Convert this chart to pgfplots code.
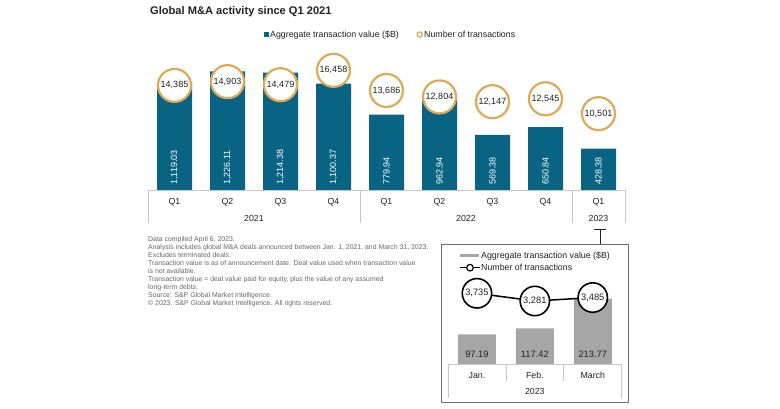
\documentclass[border=0pt]{standalone}
\usepackage{fontspec}
\setmainfont{Liberation Sans}
\usepackage{pgfplots}
\pgfplotsset{compat=1.18}
\usepackage{pgfplotstable}
\definecolor{barteal}{RGB}{8,100,130}
\definecolor{orng}{RGB}{227,168,87}
\definecolor{insetgrey}{RGB}{166,166,166}
\definecolor{linegrey}{RGB}{200,200,200}
\definecolor{notegrey}{RGB}{105,105,105}
\definecolor{framegrey}{RGB}{110,110,110}
\definecolor{txt}{RGB}{34,34,34}

\pgfplotstableread{
x val cnt
0 1119.03 14385
1 1226.11 14903
2 1214.38 14479
3 1100.37 16458
4 779.94 13686
5 962.94 12804
6 569.38 12147
7 650.84 12545
8 428.38 10501
}\maindata

\pgfplotstableread{
x val cnt
0 97.19 3735
1 117.42 3281
2 213.77 3485
}\insetdata

\newcommand{\fs}{\fontsize{8.8}{10}\selectfont}
\pgfplotsset{/pgf/number format/assume math mode=true}

\begin{document}
\begin{tikzpicture}[x=1pt,y=1pt]
\path[use as bounding box, fill=white] (0,0) rectangle (780,408);

% title
\node[anchor=base west, inner sep=0pt, font=\fontsize{11.1}{12}\selectfont\bfseries, text=txt] at (150,393.3) {Global M\&A activity since Q1 2021};

% main legend
\fill[barteal] (264.3,371.3) rectangle (268.5,375.5);
\node[anchor=base west, inner sep=0pt, font=\fs, text=txt] at (270,370.2) {Aggregate transaction value (\$B)};
\draw[orng, line width=1.3pt, fill=white] (419.7,373.5) circle (2.6);
\node[anchor=base west, inner sep=0pt, font=\fs, text=txt] at (424,370.2) {Number of transactions};

% main bars
\begin{axis}[at={(148pt,218pt)}, anchor=south west, scale only axis, width=477pt, height=130pt,
  xmin=-0.5, xmax=8.5, ymin=0, ymax=1344, clip=false,
  axis line style={draw=none}, ytick=\empty, xtick={0,...,8},
  xticklabels={Q1,Q2,Q3,Q4,Q1,Q2,Q3,Q4,Q1}, major tick length=0pt,
  xticklabel style={font=\fs, text=txt, anchor=base, yshift=-15pt}]
\addplot[ybar, bar width=35pt, fill=barteal, draw=none] table[x=x,y=val]{\maindata};
\addplot[draw=none, mark=none, point meta={\thisrow{val}},
  nodes near coords={\pgfmathprintnumber[fixed,fixed zerofill,precision=2,1000 sep={,}]{\pgfplotspointmeta}},
  every node near coord/.append style={rotate=90, anchor=west, inner xsep=5pt, inner ysep=0pt, text=white, font=\fontsize{9}{10}\selectfont}]
  table[x=x, y expr=0]{\maindata};
\draw[linegrey, line width=0.8pt] (axis cs:-0.5,0) -- (axis cs:8.5,0);
\draw[linegrey, line width=0.8pt] (axis cs:-0.5,0) -- ([yshift=-33pt]axis cs:-0.5,0);
\draw[linegrey, line width=0.8pt] (axis cs:3.5,0) -- ([yshift=-33pt]axis cs:3.5,0);
\draw[linegrey, line width=0.8pt] (axis cs:7.5,0) -- ([yshift=-33pt]axis cs:7.5,0);
\draw[linegrey, line width=0.8pt] (axis cs:8.5,0) -- ([yshift=-33pt]axis cs:8.5,0);
\node[anchor=base, font=\fs, text=txt] at ([yshift=-31pt]axis cs:1.5,0) {2021};
\node[anchor=base, font=\fs, text=txt] at ([yshift=-31pt]axis cs:5.5,0) {2022};
\node[anchor=base, font=\fs, text=txt] at ([yshift=-31pt]axis cs:8,0) {2023};
\end{axis}

% main circles
\begin{axis}[at={(148pt,218pt)}, anchor=south west, scale only axis, width=477pt, height=130pt,
  xmin=-0.5, xmax=8.5, ymin=0, ymax=17880, clip=false, hide axis]
\addplot[only marks, mark=*, mark size=16.5pt, mark options={draw=orng, fill=white, line width=2.2pt},
  point meta={\thisrow{cnt}},
  nodes near coords={\pgfmathprintnumber[fixed,precision=0,1000 sep={,}]{\pgfplotspointmeta}},
  every node near coord/.append style={anchor=center, font=\fontsize{9}{10}\selectfont, text=txt}]
  table[x=x,y=cnt]{\maindata};
\end{axis}

% footnotes
\foreach \t [count=\i from 0] in {
  {Data compiled April 6, 2023.},
  {Analysis includes global M\&A deals announced between Jan. 1, 2021, and March 31, 2023.},
  {Excludes terminated deals.},
  {Transaction value is as of announcement date. Deal value used when transaction value},
  {is not available.},
  {Transaction value = deal value paid for equity, plus the value of any assumed},
  {long-term debts.},
  {Source: S\&P Global Market Intelligence.},
  {\textcopyright{} 2023. S\&P Global Market Intelligence. All rights reserved.}}
  \node[anchor=base west, inner sep=0pt, font=\fontsize{6.9}{8}\selectfont, text=notegrey] at (148,{166.9-8*\i}) {\t};

% inset frame and connector
\draw[framegrey, line width=0.9pt] (441.7,6) rectangle (628,164);
\draw[txt, line width=0.9pt] (600,164) -- (600,178.5);
\draw[txt, line width=0.9pt] (594,178.5) -- (606,178.5);

% inset legend
\fill[insetgrey] (460,151) rectangle (479,154.5);
\node[anchor=base west, inner sep=0pt, font=\fs, text=txt] at (481,149.8) {Aggregate transaction value (\$B)};
\draw[black, line width=1.4pt] (460,140.3) -- (480,140.3);
\draw[black, line width=1.2pt, fill=white] (470,140.3) circle (3.3);
\node[anchor=base west, inner sep=0pt, font=\fs, text=txt] at (481,137.15) {Number of transactions};

% inset bars
\begin{axis}[at={(448pt,43.7pt)}, anchor=south west, scale only axis, width=173.7pt, height=84.3pt,
  xmin=-0.5, xmax=2.5, ymin=0, ymax=274.6, clip=false,
  axis line style={draw=none}, ytick=\empty, xtick={0,1,2},
  xticklabels={Jan.,Feb.,March}, major tick length=0pt,
  xticklabel style={font=\fs, text=txt, anchor=base, yshift=-14.6pt}]
\addplot[ybar, bar width=38pt, fill=insetgrey, draw=none] table[x=x,y=val]{\insetdata};
\addplot[draw=none, mark=none, point meta={\thisrow{val}},
  nodes near coords={\pgfmathprintnumber[fixed,fixed zerofill,precision=2]{\pgfplotspointmeta}},
  every node near coord/.append style={anchor=base, yshift=6.8pt, inner sep=0pt, text=txt, font=\fontsize{9.3}{10}\selectfont}]
  table[x=x, y expr=0]{\insetdata};
\draw[linegrey, line width=0.8pt] (axis cs:-0.5,0) -- (axis cs:2.5,0);
\draw[linegrey, line width=0.8pt] (axis cs:-0.5,0) -- ([yshift=-34pt]axis cs:-0.5,0);
\draw[linegrey, line width=0.8pt] (axis cs:2.5,0) -- ([yshift=-34pt]axis cs:2.5,0);
\draw[linegrey, line width=0.8pt] (axis cs:0.5,0) -- ([yshift=-17pt]axis cs:0.5,0);
\draw[linegrey, line width=0.8pt] (axis cs:1.5,0) -- ([yshift=-17pt]axis cs:1.5,0);
\node[anchor=base, font=\fs, text=txt] at ([yshift=-30.6pt]axis cs:1,0) {2023};
\end{axis}

% inset circles
\begin{axis}[at={(448pt,43.7pt)}, anchor=south west, scale only axis, width=173.7pt, height=84.3pt,
  xmin=-0.5, xmax=2.5, ymin=-451, ymax=4519, clip=false, hide axis]
\addplot[black, line width=1.5pt, mark=*, mark size=14.7pt, mark options={draw=black, fill=white, line width=1.6pt},
  point meta={\thisrow{cnt}},
  nodes near coords={\pgfmathprintnumber[fixed,precision=0,1000 sep={,}]{\pgfplotspointmeta}},
  every node near coord/.append style={anchor=center, font=\fontsize{9.3}{10}\selectfont, text=txt}]
  table[x=x,y=cnt]{\insetdata};
\end{axis}
\end{tikzpicture}
\end{document}
